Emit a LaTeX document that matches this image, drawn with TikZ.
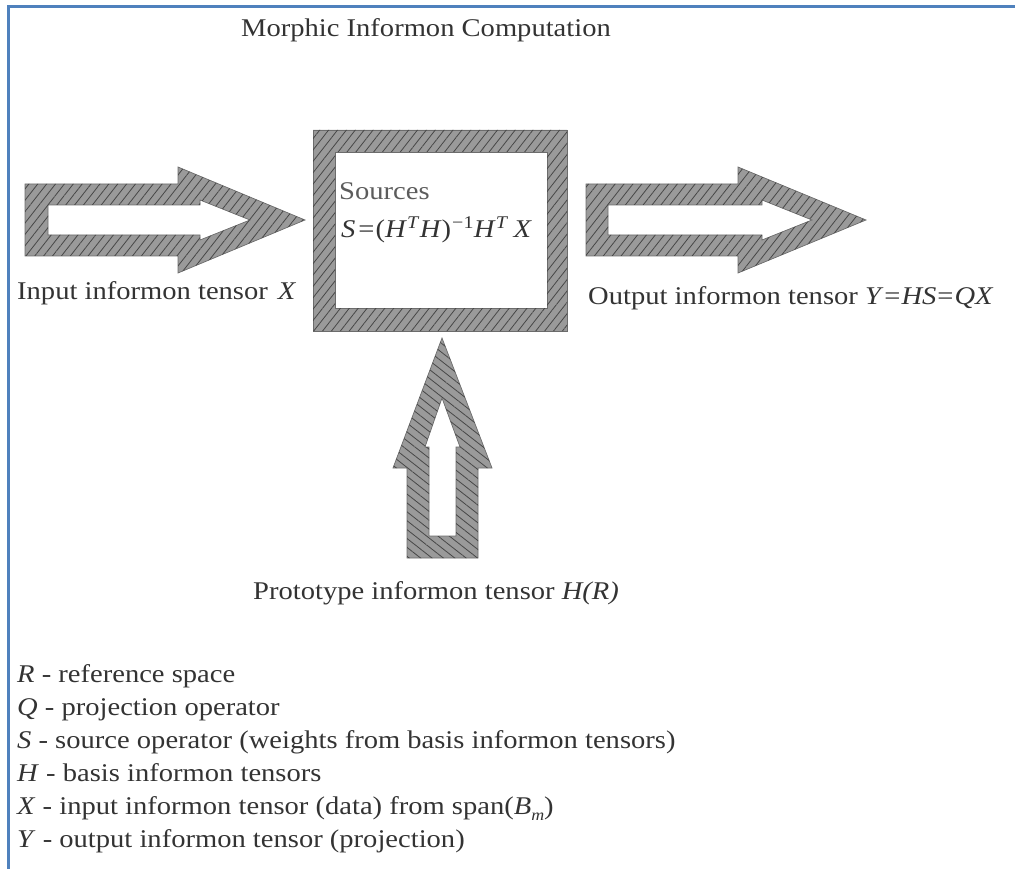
\documentclass[tikz,border=0pt]{standalone}
\usepackage{fontspec}
\setmainfont{Liberation Serif}[FakeStretch=1.12]
\usetikzlibrary{patterns.meta}

\definecolor{frameblue}{HTML}{4F81BD}
\definecolor{inkgray}{HTML}{333333}
\definecolor{hatchbg}{HTML}{9A9A9A}
\definecolor{hatchln}{HTML}{474747}

\tikzset{
  hatched/.style={even odd rule, fill=hatchbg, draw=hatchln!80, line width=0.7pt,
    postaction={pattern={Lines[angle=#1,distance=7pt,line width=0.8pt]}, pattern color=hatchln}},
  hatched/.default=52,
  label/.style={inner sep=0pt, text=inkgray, font=\fontsize{25.5}{30}\selectfont},
}

\newcommand{\ivar}[1]{\textit{#1}}

\begin{document}
\begin{tikzpicture}[x=1pt,y=-1pt]
\useasboundingbox (0,0) rectangle (1015,869);

% frame lines (top and left)
\draw[frameblue, line width=3pt] (8,869) -- (8,7) -- (1015,7);

% title
\node[label, anchor=base] (title) at (426,37) {Morphic Informon Computation};

% input arrow
\path[hatched] (25,184) -- (178,184) -- (178,167) -- (305,220) -- (178,273) -- (178,256) -- (25,256) -- cycle
  (48,205) -- (200,205) -- (200,200) -- (250,220) -- (200,240) -- (200,235) -- (48,235) -- cycle;
\node[label, anchor=base west] (inlabel) at (17,299) {Input informon tensor\hspace{10pt}\ivar{X}};

% computation box
\path[hatched] (313,130) rectangle (567,331) (335,152) rectangle (547,308);
\node[label, anchor=base west, text=inkgray!80] (sources) at (339,200) {Sources};
\node[label, anchor=base west] (formula) at (341,238)
  {\ivar{S}\hspace{3pt}=\hspace{1pt}(\ivar{H}\textsuperscript{\ivar{T}}\ivar{H})\textsuperscript{\hspace{1pt}−1}\ivar{H}\textsuperscript{\ivar{T}}\hspace{5pt}\ivar{X}};

% output arrow
\path[hatched] (586,184) -- (738,184) -- (738,167) -- (866,220) -- (738,273) -- (738,256) -- (586,256) -- cycle
  (608,205) -- (762,205) -- (762,200) -- (812,220) -- (762,240) -- (762,235) -- (608,235) -- cycle;
\node[label, anchor=base west] (outlabel) at (588,305) {Output informon tensor \ivar{Y}\hspace{1pt}=\hspace{1pt}\ivar{HS}\hspace{1pt}=\hspace{1pt}\ivar{QX}};

% prototype arrow
\path[hatched=142] (442,338) -- (492,468) -- (478,468) -- (478,558) -- (407,558) -- (407,468) -- (393,468) -- cycle
  (442,398) -- (460,447) -- (456,447) -- (456,536) -- (429,536) -- (429,447) -- (425,447) -- cycle;
\node[label, anchor=base west] (protolabel) at (253,599) {Prototype informon tensor \ivar{H(R)}};

% legend
\node[label, anchor=base west] (legR) at (17,682) {\ivar{R} - reference space};
\node[label, anchor=base west] (legQ) at (17,715) {\ivar{Q} - projection operator};
\node[label, anchor=base west] (legS) at (17,748) {\ivar{S} - source operator (weights from basis informon tensors)};
\node[label, anchor=base west] (legH) at (17,781) {\ivar{H} - basis informon tensors};
\node[label, anchor=base west] (legX) at (17,814) {\ivar{X} - input informon tensor (data) from span(\ivar{B}\raisebox{-6pt}{\fontsize{16}{16}\selectfont\ivar{m}})};
\node[label, anchor=base west] (legY) at (17,847) {\ivar{Y} - output informon tensor (projection)};
\end{tikzpicture}
\end{document}
